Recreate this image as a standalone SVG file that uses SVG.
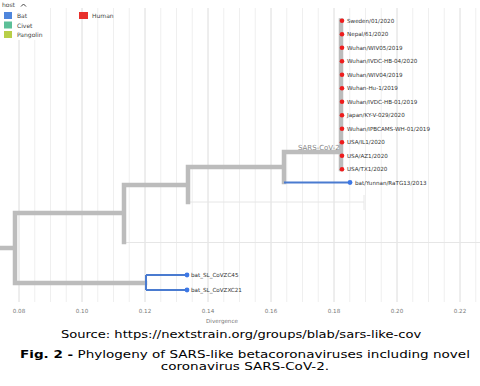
<svg xmlns="http://www.w3.org/2000/svg" width="480" height="386" viewBox="0 0 480 386">
<style>
.minor{stroke:#efefef;stroke-width:1}
.major{stroke:#dcdcdc;stroke-width:1}
.faint{stroke:#e6e6e6;stroke-width:1;fill:none}
.trunk{stroke:#bcbcbc;stroke-width:4.5;fill:none;stroke-linecap:square}
.bat{stroke:#4a7bd0;stroke-width:2;fill:none}
.tipb{fill:#3d78e6}
.tipr{fill:#ee1c1c}
.lab{font-family:"DejaVu Sans",Verdana,sans-serif;font-size:5.6px;fill:#333}
.tick{font-family:"DejaVu Sans",Verdana,sans-serif;font-size:5.6px;fill:#777;text-anchor:middle}
.leg{font-family:"DejaVu Sans",Verdana,sans-serif;font-size:6px;fill:#444}
.cap{font-family:"DejaVu Sans",Verdana,sans-serif;font-size:11px;fill:#000;text-anchor:middle}
</style>
<rect width="480" height="386" fill="#fff"/>
<g id="grid">
<g class="minor">
<line x1="34.75" y1="8" x2="34.75" y2="302"/><line x1="50.5" y1="8" x2="50.5" y2="302"/><line x1="66.25" y1="8" x2="66.25" y2="302"/>
<line x1="97.75" y1="8" x2="97.75" y2="302"/><line x1="113.5" y1="8" x2="113.5" y2="302"/><line x1="129.25" y1="8" x2="129.25" y2="302"/>
<line x1="160.75" y1="8" x2="160.75" y2="302"/><line x1="176.5" y1="8" x2="176.5" y2="302"/><line x1="192.25" y1="8" x2="192.25" y2="302"/>
<line x1="223.75" y1="8" x2="223.75" y2="302"/><line x1="239.5" y1="8" x2="239.5" y2="302"/><line x1="255.25" y1="8" x2="255.25" y2="302"/>
<line x1="286.75" y1="8" x2="286.75" y2="302"/><line x1="302.5" y1="8" x2="302.5" y2="302"/><line x1="318.25" y1="8" x2="318.25" y2="302"/>
<line x1="349.75" y1="8" x2="349.75" y2="302"/><line x1="365.5" y1="8" x2="365.5" y2="302"/><line x1="381.25" y1="8" x2="381.25" y2="302"/>
<line x1="412.75" y1="8" x2="412.75" y2="302"/><line x1="428.5" y1="8" x2="428.5" y2="302"/><line x1="444.25" y1="8" x2="444.25" y2="302"/>
<line x1="475.75" y1="8" x2="475.75" y2="302"/>
</g>
<g class="major">
<line x1="19" y1="8" x2="19" y2="302"/><line x1="82" y1="8" x2="82" y2="302"/><line x1="145" y1="8" x2="145" y2="302"/>
<line x1="208" y1="8" x2="208" y2="302"/><line x1="271" y1="8" x2="271" y2="302"/><line x1="334" y1="8" x2="334" y2="302"/>
<line x1="397" y1="8" x2="397" y2="302"/><line x1="460" y1="8" x2="460" y2="302"/>
</g>
<path class="faint" d="M188 202H364M364 195V210M124 242.5H480"/>
<g class="tick">
<text x="19" y="313">0.08</text><text x="82" y="313">0.10</text><text x="145" y="313">0.12</text><text x="208" y="313">0.14</text>
<text x="271" y="313">0.16</text><text x="334" y="313">0.18</text><text x="397" y="313">0.20</text><text x="460" y="313">0.22</text>
<text x="222" y="323">Divergence</text>
</g>
</g>
<g id="legend">
<rect x="0" y="0" width="46" height="40" fill="#fff"/>
<text class="leg" x="2" y="7">host</text>
<path d="M21 6.5L23.5 4L26 6.5" stroke="#444" stroke-width="1" fill="none"/>
<rect x="4" y="12" width="8" height="7" fill="#4f86dc"/><text class="leg" x="17" y="18">Bat</text>
<rect x="4" y="21.5" width="8" height="7" fill="#5cbf98"/><text class="leg" x="17" y="27.5">Civet</text>
<rect x="4" y="31" width="8" height="7" fill="#b8cf48"/><text class="leg" x="17" y="37">Pangolin</text>
<rect x="79" y="12" width="9" height="7" fill="#e8302c"/><text class="leg" x="92" y="18">Human</text>
</g>
<g id="connectors">
<path class="trunk" d="M0 248H15M15 213V283M15 213H124M124 185V242M124 185H188M188 167V202M188 167H284M284 152V182M284 152H341M341 20.5V169M15 283H145"/>
<path class="bat" d="M284 182.5H350M146 275V290M146 275H186M146 290H187"/>
</g>
<g id="sars-cov-2-label"><text x="298" y="150" font-family="DejaVu Sans,Verdana,sans-serif" font-size="7px" fill="#888">SARS-CoV-2</text></g>
<g id="ratg13"><circle class="tipb" cx="350" cy="182.5" r="2.4"/><text class="lab" x="355" y="184.5">bat/Yunnan/RaTG13/2013</text></g>
<g id="zc45"><circle class="tipb" cx="187" cy="275" r="2.4"/><text class="lab" x="191" y="277">bat_SL_CoVZC45</text></g>
<g id="zxc21"><circle class="tipb" cx="187" cy="290" r="2.4"/><text class="lab" x="191" y="292">bat_SL_CoVZXC21</text></g>
<g id="sweden"><circle class="tipr" cx="342" cy="20.7" r="2.3"/><text class="lab" x="347" y="22.7">Sweden/01/2020</text></g>
<g id="nepal"><circle class="tipr" cx="342" cy="34.2" r="2.3"/><text class="lab" x="347" y="36.2">Nepal/61/2020</text></g>
<g id="wiv05"><circle class="tipr" cx="342" cy="47.7" r="2.3"/><text class="lab" x="347" y="49.7">Wuhan/WIV05/2019</text></g>
<g id="ivdc04"><circle class="tipr" cx="342" cy="61.2" r="2.3"/><text class="lab" x="347" y="63.2">Wuhan/IVDC-HB-04/2020</text></g>
<g id="wiv04"><circle class="tipr" cx="342" cy="74.7" r="2.3"/><text class="lab" x="347" y="76.7">Wuhan/WIV04/2019</text></g>
<g id="hu1"><circle class="tipr" cx="342" cy="88.2" r="2.3"/><text class="lab" x="347" y="90.2">Wuhan-Hu-1/2019</text></g>
<g id="ivdc01"><circle class="tipr" cx="342" cy="101.7" r="2.3"/><text class="lab" x="347" y="103.7">Wuhan/IVDC-HB-01/2019</text></g>
<g id="japan"><circle class="tipr" cx="342" cy="115.2" r="2.3"/><text class="lab" x="347" y="117.2">Japan/KY-V-029/2020</text></g>
<g id="ipbcams"><circle class="tipr" cx="342" cy="128.7" r="2.3"/><text class="lab" x="347" y="130.7">Wuhan/IPBCAMS-WH-01/2019</text></g>
<g id="il1"><circle class="tipr" cx="342" cy="142.2" r="2.3"/><text class="lab" x="347" y="144.2">USA/IL1/2020</text></g>
<g id="az1"><circle class="tipr" cx="342" cy="155.7" r="2.3"/><text class="lab" x="347" y="157.7">USA/AZ1/2020</text></g>
<g id="tx1"><circle class="tipr" cx="342" cy="169.2" r="2.3"/><text class="lab" x="347" y="171.2">USA/TX1/2020</text></g>
<g id="caption">
<text class="cap" transform="translate(241 338) scale(1.19 1)" x="0" y="0">Source: https://nextstrain.org/groups/blab/sars-like-cov</text>
<text class="cap" transform="translate(245 358) scale(1.23 1)" x="0" y="0" font-size="11.4px"><tspan font-weight="bold">Fig. 2 -</tspan> Phylogeny of SARS-like betacoronaviruses including novel</text>
<text class="cap" transform="translate(245 370) scale(1.23 1)" x="0" y="0" font-size="11.4px">coronavirus SARS-CoV-2.</text>
</g>
</svg>
